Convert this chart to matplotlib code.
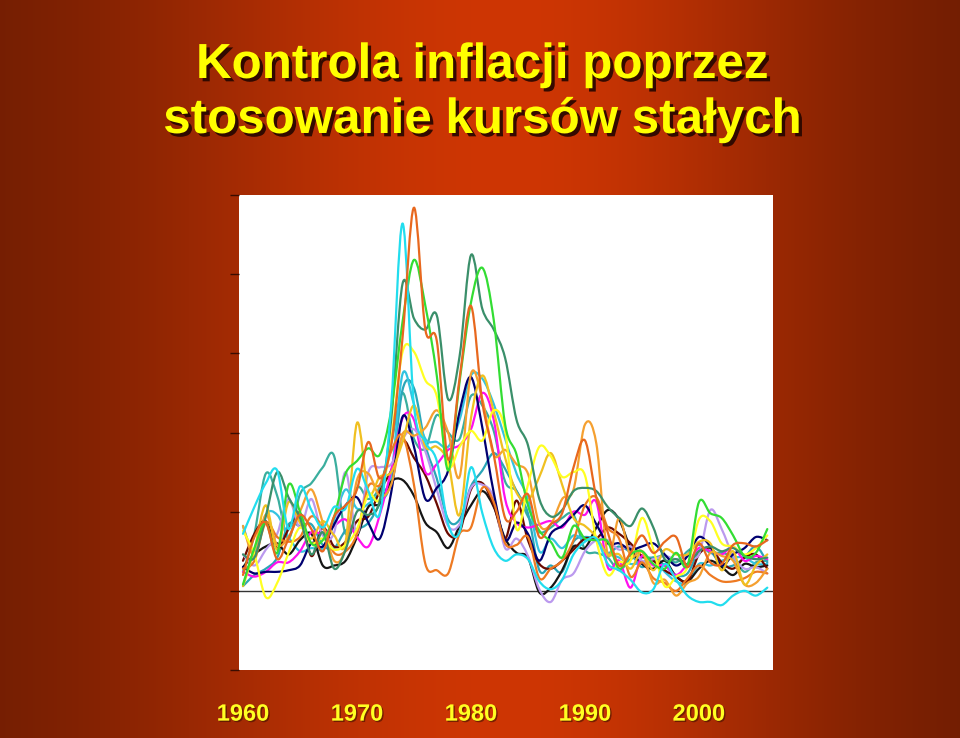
import numpy as np
import matplotlib
matplotlib.use("Agg")
import matplotlib.pyplot as plt
from matplotlib.path import Path
from matplotlib.patches import PathPatch
import matplotlib.patheffects as pe

# ---------------- data ----------------
years = list(range(1960, 2007))
tick_years = [1960, 1970, 1980, 1990, 2000]
tick_labels = ["1960", "1970", "1980", "1990", "2000"]
title_lines = ["Kontrola inflacji poprzez", "stosowanie kursów stałych"]

japan = [3.6,5.3,6.8,7.6,3.9,6.6,5.1,4.0,5.3,5.2,7.7,6.3,4.9,11.7,23.2,11.7,9.4,8.2,4.2,3.7,
         7.8,4.9,2.7,1.9,2.3,2.0,0.6,0.1,0.7,2.3,3.1,3.3,1.7,1.3,0.7,-0.1,0.1,1.7,0.7,-0.3,
         -0.7,-0.7,-0.9,-0.3,0.0,-0.3,0.2]
uk = [1.0,3.4,4.3,2.0,3.3,4.8,3.9,2.5,4.7,5.4,6.4,9.4,7.1,9.2,16.0,24.2,16.5,15.8,8.3,13.4,
      18.0,11.9,8.6,4.6,5.0,6.1,3.4,4.2,4.9,7.8,9.5,5.9,3.7,1.6,2.4,3.5,2.4,3.1,3.4,1.5,
      3.0,1.8,1.7,2.9,3.0,2.8,3.2]
ireland = [0.4,2.7,4.3,2.4,6.7,5.0,3.0,3.2,4.7,7.4,8.2,9.0,8.6,11.4,17.0,20.9,18.0,13.6,7.6,13.2,
           18.2,20.4,17.1,10.5,8.6,5.4,3.8,3.1,2.1,4.1,3.3,3.2,3.1,1.4,2.3,2.5,1.7,1.4,2.4,1.6,
           5.6,4.9,4.6,3.5,2.2,2.4,3.9]
italy = [2.3,2.1,4.7,7.5,5.9,4.6,2.3,3.7,1.4,2.6,5.0,4.8,5.7,10.8,19.4,17.2,16.5,17.4,12.1,14.8,
         21.2,17.8,16.5,14.7,10.8,9.2,5.8,4.7,5.1,6.3,6.5,6.3,5.3,4.6,4.1,5.2,4.0,2.0,2.0,1.7,
         2.5,2.8,2.5,2.7,2.2,2.0,2.1]
usa = [1.5,1.1,1.2,1.2,1.3,1.6,3.0,2.8,4.2,5.4,5.9,4.3,3.3,6.2,11.0,9.1,5.8,6.5,7.6,11.3,
       13.5,10.3,6.2,3.2,4.3,3.6,1.9,3.6,4.1,4.8,5.4,4.2,3.0,3.0,2.6,2.8,3.0,2.3,1.6,2.2,
       3.4,2.8,1.6,2.3,2.7,3.4,3.2]
canada = [1.2,0.9,1.2,1.8,1.8,2.5,3.7,3.6,4.1,4.5,3.4,2.8,4.8,7.6,10.9,10.8,7.5,8.0,8.9,9.2,
          10.2,12.5,10.8,5.8,4.3,4.0,4.2,4.4,4.0,5.0,4.8,5.6,1.5,1.9,0.2,2.2,1.6,1.6,1.0,1.7,
          2.7,2.5,2.3,2.8,1.9,2.2,2.0]
netherlands = [2.3,1.6,2.6,3.6,5.8,4.0,5.8,3.5,3.7,7.5,3.6,7.5,7.8,8.0,9.6,10.2,8.8,6.4,4.1,4.2,
               6.5,6.7,5.9,2.7,3.3,2.2,0.1,-0.7,0.7,1.1,2.5,3.2,3.2,2.6,2.8,1.9,2.0,2.2,2.0,2.2,
               2.3,5.1,3.9,2.2,1.4,1.5,1.1]
australia = [3.8,2.3,-0.4,0.5,2.4,4.0,3.0,3.3,2.6,2.9,3.9,6.1,5.8,9.5,15.1,15.1,13.3,12.3,7.9,9.1,
             10.1,9.5,11.4,10.1,3.9,6.7,9.1,8.5,7.2,7.5,7.3,3.2,1.0,1.8,1.9,4.6,2.6,0.3,0.9,1.5,
             4.5,4.4,3.0,2.8,2.3,2.7,3.5]
norway = [0.3,2.6,5.4,2.6,5.6,4.3,3.3,4.4,3.5,3.1,10.6,6.2,7.2,7.5,9.4,11.7,9.1,9.1,8.1,4.8,
          10.9,13.6,11.3,8.4,6.2,5.7,7.2,8.7,6.7,4.6,4.1,3.4,2.3,2.3,1.4,2.5,1.3,2.6,2.3,2.3,
          3.1,3.0,1.3,2.5,0.4,1.6,2.3]
sweden = [4.1,2.2,4.8,2.9,3.4,5.0,6.4,4.3,1.9,2.7,7.0,7.4,6.0,6.7,9.9,9.8,10.3,11.4,10.0,7.2,
          13.7,12.1,8.6,8.9,8.0,7.4,4.2,4.2,5.8,6.4,10.5,9.3,2.3,4.6,2.2,2.5,0.5,0.7,-0.3,0.5,
          0.9,2.4,2.2,1.9,0.4,0.5,1.4]
austria = [1.9,3.6,4.4,2.7,3.9,4.9,2.2,4.0,2.8,3.1,4.4,4.7,6.3,7.6,9.5,8.4,7.3,5.5,3.6,3.7,
           6.4,6.8,5.4,3.3,5.7,3.2,1.7,1.4,1.9,2.6,3.3,3.3,4.0,3.6,3.0,2.2,1.9,1.3,0.9,0.6,
           2.3,2.7,1.8,1.4,2.1,2.3,1.4]
switzerland = [1.4,1.9,4.3,3.4,3.1,3.4,4.7,4.0,2.4,2.5,3.6,6.6,6.7,8.8,9.8,6.7,1.7,1.3,1.1,3.6,
               4.0,6.5,5.6,3.0,2.9,3.4,0.8,1.4,1.9,3.2,5.4,5.9,4.0,3.3,0.9,1.8,0.8,0.5,0.0,0.8,
               1.6,1.0,0.6,0.6,0.8,1.2,1.1]
germany = [1.5,2.3,2.8,3.0,2.3,3.2,3.6,1.6,1.6,1.9,3.4,5.3,5.5,6.9,7.0,6.0,4.3,3.7,2.7,4.1,
           5.4,6.3,5.3,3.3,2.4,2.1,-0.1,0.2,1.3,2.8,2.7,4.0,5.1,4.5,2.7,1.7,1.4,1.9,0.9,0.6,
           1.4,1.9,1.5,1.0,1.7,1.5,1.6]
france = [4.1,2.4,4.8,4.8,3.4,2.5,2.7,2.7,4.5,6.4,5.2,5.5,6.2,7.3,13.7,11.8,9.6,9.4,9.1,10.8,
          13.6,13.4,11.8,9.6,7.4,5.8,2.5,3.3,2.7,3.5,3.2,3.2,2.4,2.1,1.7,1.8,2.0,1.2,0.6,0.5,
          1.7,1.6,1.9,2.1,2.1,1.7,1.7]
belgium = [0.3,1.0,1.4,2.1,4.2,4.1,4.2,2.9,2.7,3.8,3.9,4.3,5.5,7.0,12.7,12.8,9.2,7.1,4.5,4.5,
           6.6,7.6,8.7,7.7,6.3,4.9,1.3,1.6,1.2,3.1,3.4,3.2,2.4,2.8,2.4,1.5,2.1,1.6,1.0,1.1,
           2.5,2.5,1.6,1.6,2.1,2.8,1.8]
denmark = [1.2,3.6,7.4,6.0,3.3,6.1,6.8,7.8,8.5,3.6,6.5,5.8,6.6,9.3,12.5,9.6,9.0,11.1,10.0,9.6,
           12.3,11.7,10.1,6.9,6.3,4.7,3.7,4.0,4.6,4.8,2.6,2.4,2.1,1.3,2.0,2.1,2.1,2.2,1.8,2.5,
           2.9,2.4,2.4,2.1,1.2,1.8,1.9]

series = [
    (denmark, "#3AAE9E"), (belgium, "#2AA6B8"), (france, "#33C3E0"), (germany, "#151515"),
    (austria, "#6A0A00"), (canada, "#FF10EE"), (netherlands, "#BB99EE"), (usa, "#000070"),
    (switzerland, "#EE7A22"), (sweden, "#F5A030"), (norway, "#F0C020"), (australia, "#FFFF22"),
    (italy, "#3A8F6A"), (ireland, "#33DD33"), (japan, "#22DDEE"), (uk, "#E8681E"),
]

# ---------------- figure ----------------
W, H = 960, 738
fig = plt.figure(figsize=(W / 100, H / 100), dpi=100)

# background gradient
bg = fig.add_axes([0, 0, 1, 1])
u = np.linspace(0, 1, W)
s = np.where(u < 0.53, 0.40, 0.34)
g = np.exp(-((u - 0.53) / s) ** 2)
edge = np.array([100, 26, 2]) / 255.0
center = np.array([206, 54, 4]) / 255.0
row = edge[None, :] + (center - edge)[None, :] * g[:, None]
img = np.repeat(row[None, :, :], 10, axis=0)
bg.imshow(img, aspect="auto", extent=[0, 1, 0, 1], interpolation="bilinear")
bg.set_axis_off()

# title
shadow = [pe.withSimplePatchShadow(offset=(2.4, -2.4), shadow_rgbFace="#240600", alpha=0.9)]
for txt, base in zip(title_lines, [78, 133]):
    fig.text(0.502, 1 - base / H, txt, ha="center", va="baseline", color="#FFFF00",
             fontsize=35.5, fontweight="bold", family=["Liberation Sans", "DejaVu Sans"],
             path_effects=shadow)

# main axes
ax = fig.add_axes([239 / W, 1 - 670 / H, (773 - 239) / W, (670 - 195) / H])
ax.set_facecolor("white")
ax.set_xlim(1959.65, 2006.5)
ax.set_ylim(-5, 25)
for sp in ax.spines.values():
    sp.set_visible(False)
ax.set_yticks([-5, 0, 5, 10, 15, 20, 25])
ax.set_yticklabels([])
ax.tick_params(axis="y", direction="out", length=6.5, width=1.0, color="#3a0c00")
ax.set_xticks(tick_years)
ax.set_xticklabels(tick_labels)
ax.tick_params(axis="x", length=0, pad=23.5)
for lab in ax.get_xticklabels():
    lab.set_color("#FFFF22")
    lab.set_fontweight("bold")
    lab.set_fontsize(17)
    lab.set_family(["Liberation Sans Narrow", "Liberation Sans", "DejaVu Sans"])
    lab.set_path_effects([pe.withSimplePatchShadow(offset=(1, -1), shadow_rgbFace="#401000", alpha=0.6)])

ax.axhline(0, color="#333333", lw=1.0, zorder=1)


def smooth_path(xs, ys):
    verts = [(xs[0], ys[0])]
    codes = [Path.MOVETO]
    n = len(xs)
    for i in range(n - 1):
        p0 = i - 1 if i > 0 else i
        p3 = i + 2 if i + 2 < n else i + 1
        c1 = (xs[i] + (xs[i + 1] - xs[p0]) / 6.0, ys[i] + (ys[i + 1] - ys[p0]) / 6.0)
        c2 = (xs[i + 1] - (xs[p3] - xs[i]) / 6.0, ys[i + 1] - (ys[p3] - ys[i]) / 6.0)
        verts += [c1, c2, (xs[i + 1], ys[i + 1])]
        codes += [Path.CURVE4] * 3
    return Path(verts, codes)


for vals, col in series:
    p = smooth_path(years, vals)
    ax.add_patch(PathPatch(p, fill=False, edgecolor=col, lw=1.6, zorder=2,
                           capstyle="round", joinstyle="round"))

fig.savefig("out.png", dpi=100)
